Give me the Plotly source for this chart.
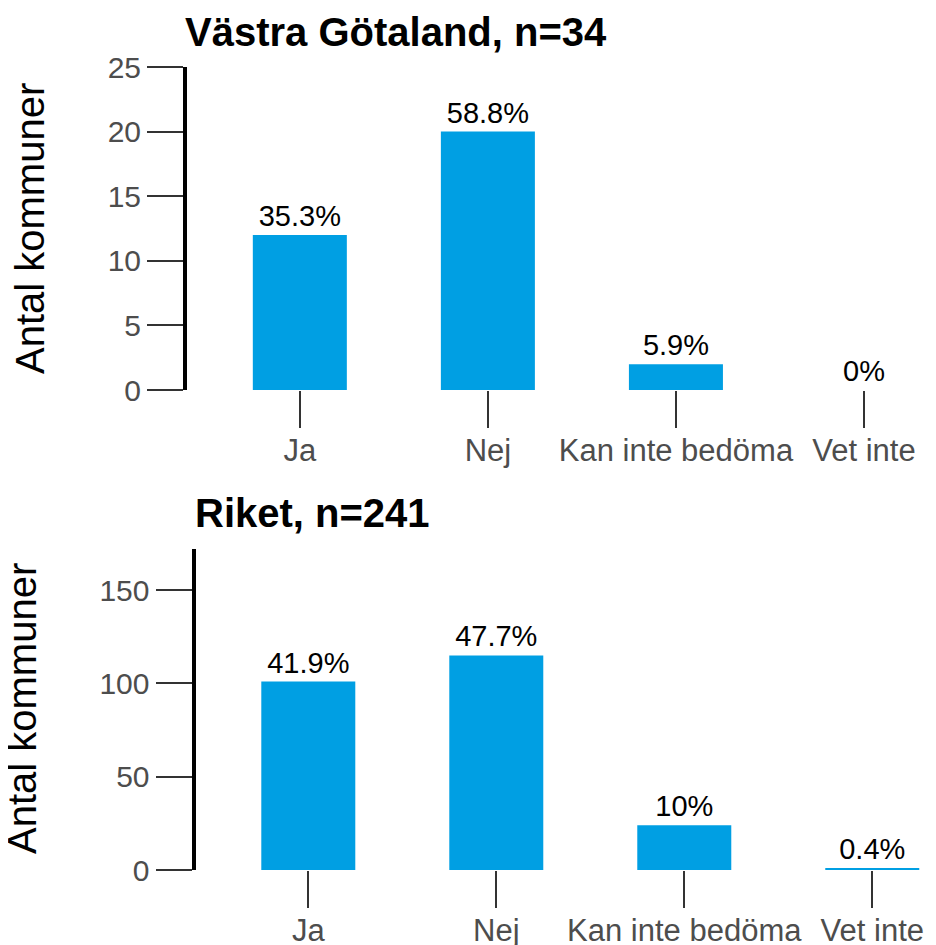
import plotly.graph_objects as go

categories = ["Ja", "Nej", "Kan inte bedöma", "Vet inte"]
vg_counts = [12, 20, 2, 0]
vg_labels = ["35.3%", "58.8%", "5.9%", "0%"]
riket_counts = [101, 115, 24, 1]
riket_labels = ["41.9%", "47.7%", "10%", "0.4%"]
vg_title = "Västra Götaland, n=34"
riket_title = "Riket, n=241"
y_title = "Antal kommuner"
vg_yticks = [0, 5, 10, 15, 20, 25]
riket_yticks = [0, 50, 100, 150]

# page body has an 8px margin; work in screen pixels and convert
OFF = 8
W, H = 936 - OFF, 945 - OFF
FONT = "Liberation Sans, Arial, sans-serif"
BAR = "#009FE3"
GRAY = "#4D4D4D"

def fx(sx):
    return (sx - OFF) / W

def fy(sy):
    return 1 - (sy - OFF) / H

fig = go.Figure()

fig.add_trace(go.Bar(x=categories, y=vg_counts, text=vg_labels, textposition="outside",
                     width=0.5, marker=dict(color=BAR, line=dict(width=0)),
                     textfont=dict(size=29, color="black", family=FONT),
                     cliponaxis=False, xaxis="x", yaxis="y", showlegend=False))
fig.add_trace(go.Bar(x=categories, y=riket_counts, text=riket_labels, textposition="outside",
                     width=0.5, marker=dict(color=BAR, line=dict(width=0)),
                     textfont=dict(size=29, color="black", family=FONT),
                     cliponaxis=False, xaxis="x2", yaxis="y2", showlegend=False))

xcommon = dict(showline=False, showgrid=False, zeroline=False, ticks="outside", ticklen=37,
               tickwidth=1.5, tickcolor="#333333", automargin=False, ticklabelstandoff=-4,
               tickfont=dict(size=31, color=GRAY, family=FONT), fixedrange=True)
ycommon = dict(showline=True, linewidth=4, linecolor="black", showgrid=False, zeroline=False,
               ticks="outside", ticklen=36, tickwidth=1.5, tickcolor="#333333", automargin=False,
               tickfont=dict(size=30, color=GRAY, family=FONT))

fig.update_layout(
    width=W, height=H,
    margin=dict(l=0, r=0, t=0, b=0),
    paper_bgcolor="white", plot_bgcolor="white",
    font=dict(family=FONT),
    xaxis=dict(domain=[fx(187), 1], range=[-0.6, 3.383], anchor="y", **xcommon),
    yaxis=dict(domain=[fy(390), fy(67)], range=[0, 25], tickvals=vg_yticks, anchor="x", **ycommon),
    xaxis2=dict(domain=[fx(195.5), 1], range=[-0.6, 3.339], anchor="y2", **xcommon),
    yaxis2=dict(domain=[fy(870), fy(549)], range=[0, 172], tickvals=riket_yticks, anchor="x2", **ycommon),
    annotations=[
        dict(text="<b>" + vg_title + "</b>", x=fx(183), y=fy(32), xref="paper", yref="paper",
             xanchor="left", yanchor="middle", showarrow=False,
             font=dict(size=40, color="black", family=FONT)),
        dict(text="<b>" + riket_title + "</b>", x=fx(193), y=fy(513), xref="paper", yref="paper",
             xanchor="left", yanchor="middle", showarrow=False,
             font=dict(size=40, color="black", family=FONT)),
        dict(text=y_title, x=fx(30), y=fy(229), xref="paper", yref="paper",
             xanchor="center", yanchor="middle", showarrow=False, textangle=-90,
             font=dict(size=40, color="black", family=FONT)),
        dict(text=y_title, x=fx(22), y=fy(709), xref="paper", yref="paper",
             xanchor="center", yanchor="middle", showarrow=False, textangle=-90,
             font=dict(size=40, color="black", family=FONT)),
    ],
)

fig.write_html("out.html")
